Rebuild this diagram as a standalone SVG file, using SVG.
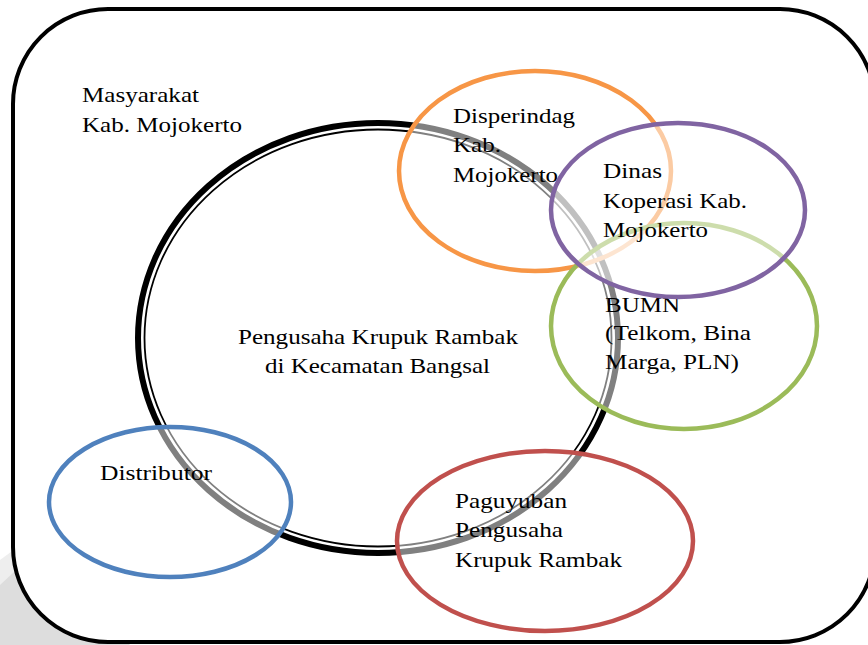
<svg xmlns="http://www.w3.org/2000/svg" width="868" height="645" viewBox="0 0 868 645">
<style>
text{font-family:"Liberation Serif","Times New Roman",serif;font-size:21px;fill:#000}
.node{fill:#fff;fill-opacity:0.5;stroke-width:4.5}
</style>
<rect x="0" y="0" width="868" height="645" fill="#fff"/>
<polygon points="0,575 40,545 130,645 0,645" fill="#dddddd"/>
<polygon points="0,560 30,538 40,548 0,585" fill="#eeeeee"/>
<g id="masyarakat">
<rect x="13" y="9" width="862" height="633" rx="95" ry="95" fill="#fff" stroke="#000" stroke-width="4"/>
<text x="82" y="102" textLength="117" lengthAdjust="spacingAndGlyphs">Masyarakat</text>
<text x="82" y="132" textLength="160" lengthAdjust="spacingAndGlyphs">Kab. Mojokerto</text>
</g>
<g id="pengusaha">
<ellipse cx="378" cy="338" rx="240" ry="215" fill="none" stroke="#000" stroke-width="6"/>
<ellipse cx="378" cy="338" rx="233.5" ry="208.5" fill="none" stroke="#000" stroke-width="1.8"/>
<text x="238" y="344" textLength="280" lengthAdjust="spacingAndGlyphs">Pengusaha Krupuk Rambak</text>
<text x="265" y="373" textLength="225" lengthAdjust="spacingAndGlyphs">di Kecamatan Bangsal</text>
</g>
<g id="disperindag">
<ellipse class="node" cx="535" cy="171" rx="136" ry="100" stroke="#F79646"/>
<text x="453" y="123" textLength="122" lengthAdjust="spacingAndGlyphs">Disperindag</text>
<text x="453" y="152" textLength="48" lengthAdjust="spacingAndGlyphs">Kab.</text>
<text x="453" y="182" textLength="105" lengthAdjust="spacingAndGlyphs">Mojokerto</text>
</g>
<g id="bumn">
<ellipse class="node" cx="684" cy="326" rx="133" ry="103" stroke="#9BBB59"/>
<text x="605" y="312" textLength="75" lengthAdjust="spacingAndGlyphs">BUMN</text>
<text x="605" y="340" textLength="146" lengthAdjust="spacingAndGlyphs">(Telkom, Bina</text>
<text x="605" y="369" textLength="134" lengthAdjust="spacingAndGlyphs">Marga, PLN)</text>
</g>
<g id="dinas-koperasi">
<ellipse class="node" cx="678" cy="210" rx="127" ry="87" stroke="#8064A2"/>
<text x="603" y="178" textLength="59" lengthAdjust="spacingAndGlyphs">Dinas</text>
<text x="603" y="208" textLength="144" lengthAdjust="spacingAndGlyphs">Koperasi Kab.</text>
<text x="603" y="237" textLength="105" lengthAdjust="spacingAndGlyphs">Mojokerto</text>
</g>
<g id="paguyuban">
<ellipse class="node" cx="545" cy="541" rx="148" ry="90" stroke="#C0504D"/>
<text x="455" y="508" textLength="112" lengthAdjust="spacingAndGlyphs">Paguyuban</text>
<text x="455" y="537" textLength="108" lengthAdjust="spacingAndGlyphs">Pengusaha</text>
<text x="455" y="567" textLength="167" lengthAdjust="spacingAndGlyphs">Krupuk Rambak</text>
</g>
<g id="distributor">
<ellipse class="node" cx="170" cy="502" rx="121" ry="75" stroke="#4F81BD"/>
<text x="100" y="480" textLength="112" lengthAdjust="spacingAndGlyphs">Distributor</text>
</g>
</svg>
